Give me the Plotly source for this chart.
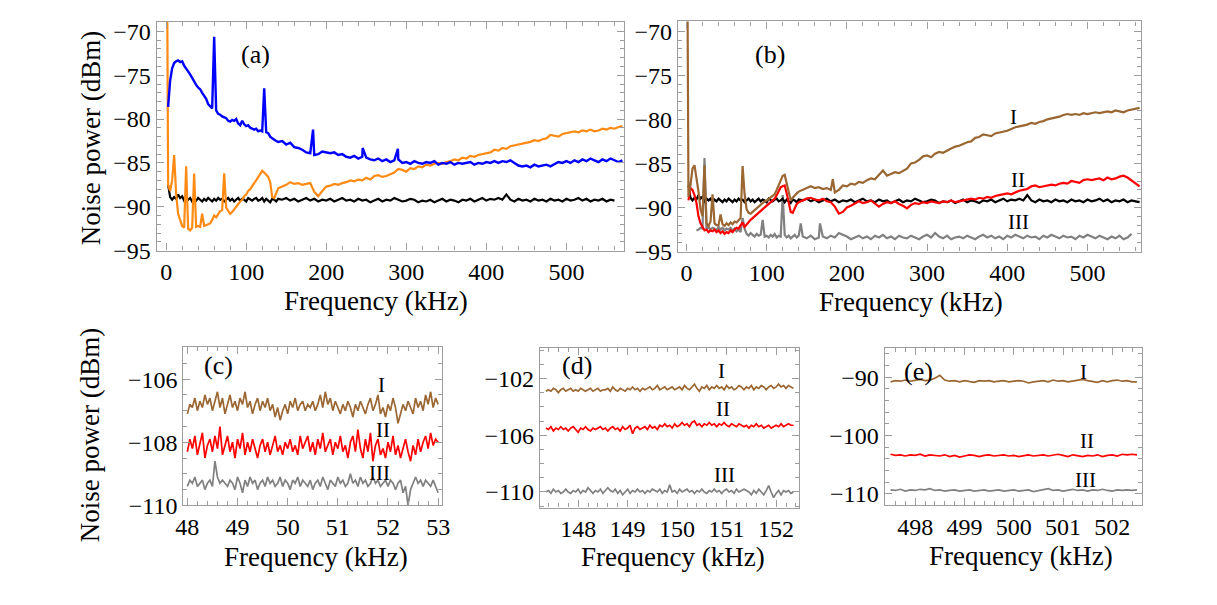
import plotly.graph_objects as go

# ---------------- frequency sample positions (kHz) ----------------
FREQ_LOW = [1.0] + [round(2.5 * k, 2) for k in range(1, 57)]        # 1, 2.5 ... 140
FREQ_HIGH = [145 + 5 * k for k in range(86)]                          # 145 ... 570
FREQ_C = [round(48.0 + 0.05 * k, 3) for k in range(101)]              # 48 ... 53
FREQ_D = [round(147.35 + 0.05 * k, 3) for k in range(101)]            # 147.35 ... 152.35
FREQ_E = [round(497.5 + 0.1 * k, 3) for k in range(51)]               # 497.5 ... 502.5

# ---------------- panel (a) ----------------
blue_a_low = [None, -78.6, -75.6, -74.2, -73.6, -73.4, -73.3, -73.5, -73.4, -73.9,
              -74.2, -74.5, -74.9, -75.3, -75.8, -76.1, -76.4, -76.6, -77.0, -77.4,
              -77.7, -78.3, -78.6, -78.8, -70.6, -79.0, -79.4, -79.5, -79.7, -79.8,
              -79.9, -80.2, -80.3, -80.1, -80.2, -80.0, -80.5, -80.7, -80.2, -80.6,
              -80.8, -80.7, -81.0, -81.1, -81.2, -81.1, -81.4, -81.3, -81.4, -76.5,
              -81.5, -81.6, -82.0, -82.2, -82.4, -82.5, -82.6]
blue_a_high = [-82.5, -82.9, -82.7, -83.2, -83.3, -83.5, -83.8, -83.9, -84.1, -84.0,
               -83.7, -83.8, -83.9, -83.8, -84.1, -84.0, -84.3, -84.4, -84.2, -84.5,
               -84.3, -84.4, -84.6, -84.7, -84.5, -84.8, -84.6, -84.9, -84.7, -84.6,
               -85.0, -84.9, -85.1, -84.8, -85.0, -85.1, -84.9, -85.0, -84.8, -85.2,
               -85.0, -85.1, -84.9, -85.2, -85.0, -85.1, -85.0, -84.9, -85.2, -85.0,
               -85.1, -84.9, -85.0, -84.8, -85.0, -84.8, -84.9, -84.7, -85.0, -85.3,
               -85.4, -85.3, -85.5, -85.2, -85.4, -85.3, -85.2, -85.4, -85.1, -84.9,
               -85.0, -84.8, -85.0, -84.7, -84.9, -84.6, -84.8, -84.5, -84.7, -84.9,
               -84.6, -84.8, -84.5, -84.7, -84.9, -84.7]
blue_a_spike_f = [183.5, 245.5, 289.5]
blue_a_spike_db = [-81.2, -83.3, -83.4]

orange_a_low = [-60.0, -87.5, -88.2, -87.0, -84.1, -88.5, -90.8, -91.6, -92.2, -92.4,
                -85.4, -92.5, -92.7, -92.4, -86.2, -92.3, -92.2, -92.3, -90.8, -92.2,
                -92.1, -92.0, -91.9, -91.5, -91.0, -91.2, -90.8, -90.5, -90.4, -86.2,
                -90.1, -90.4, -90.8, -90.6, -90.3, -89.9, -89.6, -89.4, -89.2, -88.8,
                -88.6, -88.2, -88.0, -87.6, -87.3, -87.0, -86.6, -86.2, -85.9, -86.1,
                -86.3, -86.6, -87.2, -88.9, -89.0, -88.4, -87.9]
orange_a_high = [-87.7, -87.5, -87.2, -87.4, -87.3, -87.5, -87.4, -87.3, -88.3, -88.8,
                 -88.2, -87.7, -87.6, -87.4, -87.5, -87.3, -87.2, -87.0, -87.1, -86.9,
                 -87.0, -86.7, -86.9, -86.5, -86.4, -86.6, -86.5, -86.3, -86.1, -85.7,
                 -85.8, -86.0, -85.6, -85.7, -85.4, -85.5, -85.2, -85.3, -85.1, -85.0,
                 -85.1, -84.9, -84.8, -84.6, -84.7, -84.4, -84.5, -84.2, -84.3, -84.1,
                 -84.0, -83.9, -83.8, -83.5, -83.6, -83.3, -83.4, -83.1, -83.0, -82.9,
                 -82.8, -82.7, -82.6, -82.4, -82.5, -82.3, -82.2, -81.8, -81.9, -82.0,
                 -81.7, -81.6, -81.5, -81.4, -81.5, -81.3, -81.4, -81.2, -81.4, -81.3,
                 -81.1, -81.2, -81.0, -81.1, -80.9, -80.8]

# shot-noise reference (black), shared by (a) and (b)
shot_low = [None, -87.5, -88.9, -89.2, -88.9, -89.1, -88.6, -89.0, -88.8, -89.3,
            -89.0, -89.2, -89.0, -89.4, -89.1, -89.3, -89.0, -89.2, -89.4, -89.1,
            -89.3, -89.0, -89.2, -89.4, -89.1, -89.3, -89.0, -89.2, -89.1, -89.4,
            -89.2, -89.0, -89.3, -89.1, -89.4, -89.2, -89.0, -89.3, -89.1, -89.2,
            -89.4, -89.0, -89.2, -89.3, -89.1, -89.0, -89.3, -89.2, -89.0, -89.4,
            -89.1, -89.3, -89.5, -89.1, -89.2, -89.4, -89.1]
shot_high = [-89.2, -89.0, -89.3, -89.1, -89.4, -89.2, -89.0, -89.3, -89.1, -89.4,
             -89.2, -89.3, -89.1, -89.4, -89.2, -89.0, -89.3, -89.2, -89.4, -89.1,
             -89.3, -89.2, -89.5, -89.3, -89.1, -89.4, -89.2, -89.3, -89.0, -89.2,
             -89.4, -89.3, -89.1, -89.2, -89.5, -89.3, -89.4, -89.2, -89.5, -89.3,
             -89.1, -89.4, -89.2, -89.3, -89.5, -89.2, -89.3, -89.1, -89.4, -89.2,
             -89.0, -89.3, -89.1, -89.2, -89.0, -89.2, -88.6, -89.2, -89.4, -89.1,
             -89.3, -89.2, -89.4, -89.1, -89.3, -89.2, -89.4, -89.1, -89.3, -89.2,
             -89.4, -89.1, -89.3, -89.2, -89.0, -89.3, -89.1, -89.4, -89.2, -89.3,
             -89.1, -89.4, -89.2, -89.3, -89.4, None]
shot_a_fmax = 560

# ---------------- panel (b) ----------------
brown_b_low = [-60.0, -88.8, -87.5, -85.6, -85.2, -86.5, -88.2, -90.2, -91.0, -85.2,
               -91.8, -92.1, -91.6, -88.5, -91.8, -92.0, -92.0, -90.8, -91.9, -92.1,
               -91.8, -92.0, -91.7, -91.9, -91.6, -91.7, -91.5, -91.2, -85.3, -88.5,
               -90.2, -90.6, -90.7, -90.5, -90.3, -90.1, -89.9, -89.6, -89.5, -89.3,
               -89.2, -89.0, -88.8, -88.6, -88.5, -88.0, -87.4, -86.8, -86.4, -86.3,
               -87.2, -88.4, -89.2, -88.9, -88.6, -88.4, -88.2]
brown_b_high = [-88.0, -87.8, -87.6, -87.8, -87.7, -87.9, -87.8, -88.0, -88.3, -88.0,
                -87.5, -87.6, -87.3, -87.4, -87.1, -87.2, -86.9, -86.7, -86.8, -86.3,
                -85.8, -86.4, -86.2, -86.0, -86.1, -85.8, -85.6, -85.0, -84.9, -84.6,
                -84.2, -84.1, -84.3, -83.9, -83.7, -83.8, -83.5, -83.3, -83.1, -83.0,
                -82.8, -82.6, -82.5, -82.1, -82.0, -81.7, -81.8, -81.9, -81.6, -81.5,
                -81.4, -81.3, -81.1, -80.9, -80.8, -80.7, -80.6, -80.4, -80.5, -80.3,
                -80.2, -80.0, -79.9, -79.8, -79.7, -79.5, -79.4, -79.5, -79.4, -79.5,
                -79.3, -79.4, -79.3, -79.2, -79.3, -79.2, -79.1, -79.2, -79.0, -79.1,
                -79.2, -79.0, -78.9, -78.8, -78.7, None]
brown_b_spike_f = [182.5]
brown_b_spike_db = [-86.8]

red_b_low = [None, -89.2, -87.8, -88.0, -88.6, -89.5, -91.0, -91.8, -92.3, -92.6,
             -92.5, -92.8, -92.6, -92.7, -92.5, -92.8, -92.6, -92.9, -92.7, -93.0,
             -92.8, -92.9, -92.6, -92.8, -92.5, -92.3, -92.4, -92.0, -91.7, -92.2,
             -91.9, -91.6, -91.4, -91.2, -91.0, -90.8, -90.6, -90.3, -90.1, -89.9,
             -89.8, -89.6, -89.4, -89.2, -89.0, -88.6, -88.2, -87.7, -87.6, -87.5,
             -88.4, -89.6, -90.5, -90.6, -90.0, -89.6, -89.4]
red_b_high = [-89.2, -89.0, -88.9, -89.1, -89.2, -89.0, -89.3, -89.4, -89.9, -90.7,
              -90.5, -90.0, -89.8, -89.5, -89.3, -89.5, -89.4, -89.2, -89.6, -89.9,
              -89.6, -89.4, -89.5, -89.3, -89.6, -89.8, -90.1, -89.7, -89.5, -89.6,
              -89.4, -89.5, -89.3, -89.4, -89.5, -89.3, -89.4, -89.2, -89.4, -89.3,
              -89.2, -89.1, -89.0, -89.1, -88.9, -89.0, -88.8, -88.9, -88.7, -88.6,
              -88.5, -88.4, -88.5, -88.3, -88.1, -88.0, -87.9, -87.6, -87.5, -87.7,
              -87.6, -87.5, -87.4, -87.5, -87.3, -87.2, -87.3, -87.0, -87.1, -87.2,
              -86.9, -86.8, -86.9, -86.8, -86.7, -86.9, -86.6, -86.8, -86.7, -86.5,
              -86.4, -86.6, -86.9, -87.2, -87.6, None]

gray_b_low = [None, None, None, None, None, -92.6, -92.5, -92.3, -92.4, -84.4,
              -92.6, -92.2, -92.5, -92.3, -92.4, -92.6, -92.2, -92.5, -92.3, -92.6,
              -92.4, -92.5, -92.3, -92.6, -92.4, -92.7, -92.5, -92.8, -91.2, -92.4,
              -93.0, -93.2, -92.9, -93.1, -93.3, -93.0, -93.2, -93.1, -91.4, -93.3,
              -93.2, -93.4, -93.1, -93.3, -93.0, -93.4, -93.2, -93.3, -88.6, -93.1,
              -93.4, -93.2, -93.5, -93.3, -93.1, -93.4, -93.2]
gray_b_high = [-93.3, -93.5, -93.2, -93.6, -93.4, -93.3, -93.5, -93.2, -93.4, -92.9,
               -93.1, -93.3, -93.6, -93.4, -93.2, -93.5, -93.3, -93.6, -93.2, -93.4,
               -93.1, -93.5, -93.3, -93.6, -93.2, -93.4, -93.5, -93.2, -93.4, -93.6,
               -93.3, -93.1, -93.4, -92.9, -93.3, -93.5, -93.2, -93.6, -93.4, -93.3,
               -93.5, -93.2, -93.4, -93.6, -93.3, -93.1, -93.4, -93.2, -93.5, -93.3,
               -93.6, -93.2, -93.4, -93.1, -93.3, -93.5, -93.2, -93.4, -93.3, -93.6,
               -93.2, -93.4, -93.1, -93.3, -93.5, -93.2, -93.4, -93.3, -93.6, -93.2,
               -93.4, -93.1, -93.3, -93.5, -93.2, -93.4, -93.6, -93.3, -93.5, -93.2,
               -93.6, -93.4, -93.0, None, None, None]
gray_b_spike_f = [142.5, 166.5]
gray_b_spike_db = [-91.8, -91.8]

# ---------------- panel (c) 48-53 kHz ----------------
brown_c = [-107.1, -106.8, -106.9, -106.6, -107.0, -106.7, -106.9, -106.5, -106.8, -106.6,
           -107.0, -106.7, -106.4, -106.9, -106.6, -107.1, -106.8, -106.5, -106.9, -106.7,
           -107.0, -106.6, -106.8, -106.4, -106.9, -106.7, -107.1, -106.8, -106.6, -107.0,
           -106.7, -106.9, -106.6, -107.0, -106.8, -107.2, -106.9, -107.3, -107.0, -106.8,
           -107.1, -106.7, -106.9, -106.6, -107.0, -106.8, -106.7, -107.0, -106.8, -106.9,
           -106.7, -107.0, -106.8, -106.5, -106.9, -106.4, -106.8, -106.6, -107.0, -106.7,
           -106.9, -107.1, -106.8, -107.0, -106.7, -106.9, -107.2, -106.8, -107.0, -106.7,
           -106.9, -107.1, -106.8, -106.6, -107.0, -106.8, -106.5, -107.1, -106.9, -107.2,
           -106.8, -107.0, -106.6, -106.9, -107.4, -107.1, -106.8, -107.0, -106.7, -106.9,
           -107.1, -106.6, -106.9, -106.7, -107.0, -106.5, -106.8, -106.4, -106.9, -106.6,
           -106.8]
red_c = [-108.3, -107.9, -108.2, -107.8, -108.4, -108.0, -107.7, -108.5, -108.1, -107.9,
         -108.3, -107.8, -108.2, -107.5, -108.4, -108.1, -107.8, -108.3, -108.0, -108.5,
         -107.9, -108.2, -107.7, -108.4, -108.0, -108.3, -107.9, -108.2, -108.5, -108.1,
         -107.9, -108.3, -108.0, -108.4, -108.1, -107.8, -108.3, -108.1, -108.4, -108.0,
         -108.2, -107.9, -108.3, -108.1, -108.4, -107.8, -108.2, -108.0, -107.8, -108.3,
         -108.0, -108.4, -107.9, -108.2, -107.7, -108.3, -108.1, -107.9, -108.4, -108.0,
         -108.2, -107.8, -108.3, -108.1, -108.5, -108.0, -107.8, -108.3, -107.6, -108.2,
         -108.5, -107.9, -108.3, -107.7, -108.6, -108.1, -107.9, -108.4, -108.2, -108.5,
         -108.0, -108.3, -107.8, -108.4, -108.1, -108.5, -108.2, -107.9, -108.3, -108.6,
         -108.1, -108.4, -107.9, -108.3, -108.0, -107.8, -108.2, -107.7, -108.1, -107.9,
         -108.0]
gray_c = [-109.4, -109.2, -109.3, -109.1, -109.4, -109.3, -109.2, -109.5, -109.3, -109.2,
          -109.4, -108.6, -109.1, -109.3, -109.2, -109.3, -109.4, -109.2, -109.3, -109.5,
          -109.1, -109.3, -109.6, -109.2, -109.4, -109.1, -109.3, -109.2, -109.5, -109.3,
          -109.2, -109.4, -109.1, -109.3, -109.2, -109.4, -109.3, -109.1, -109.4, -109.2,
          -109.3, -109.5, -109.2, -109.3, -109.1, -109.4, -109.2, -109.3, -109.4, -109.2,
          -109.5, -109.3, -109.2, -109.4, -109.1, -109.3, -109.5, -109.2, -109.3, -109.4,
          -109.1, -109.3, -109.2, -109.4, -109.3, -109.0, -109.3, -109.2, -109.4, -109.1,
          -109.3, -109.2, -109.4, -109.3, -109.1, -109.3, -109.2, -109.4, -109.3, -109.2,
          -109.4, -109.2, -109.3, -109.5, -109.3, -109.2, -109.6, -109.4, -110.0, -109.5,
          -109.3, -109.1, -109.3, -109.2, -109.4, -109.2, -109.3, -109.4, -109.2, -109.4,
          -109.6]

# ---------------- panel (d) 147.35-152.35 kHz ----------------
brown_d = [-102.9, -102.8, -102.9, -102.7, -102.8, -103.0, -102.8, -102.7, -102.9, -102.8,
           -102.7, -102.9, -102.8, -102.9, -102.7, -102.8, -102.9, -102.8, -102.7, -102.9,
           -102.8, -102.7, -102.9, -102.8, -102.8, -102.7, -102.9, -102.6, -102.8, -102.9,
           -102.7, -102.8, -102.9, -102.7, -102.8, -102.6, -102.8, -102.7, -102.9, -102.7,
           -102.8, -102.7, -102.6, -102.8, -102.7, -102.5, -102.8, -102.7, -102.6, -102.8,
           -102.7, -102.6, -102.8, -102.7, -102.6, -102.8, -102.5, -102.7, -102.8, -102.6,
           -102.4, -102.7, -102.9, -102.6, -102.7, -102.5, -102.8, -102.6, -102.7, -102.5,
           -102.7, -102.6, -102.8, -102.5, -102.7, -102.6, -102.8, -102.7, -102.5, -102.6,
           -102.8, -102.6, -102.7, -102.5, -102.8, -102.6, -102.7, -102.5, -102.6, -102.8,
           -102.6, -102.5, -102.7, -102.6, -102.4, -102.6, -102.5, -102.7, -102.5, -102.6,
           -102.7]
red_d = [-105.5, -105.6, -105.4, -105.7, -105.5, -105.6, -105.4, -105.6, -105.5, -105.7,
         -105.5, -105.4, -105.6, -105.8, -105.5, -105.6, -105.4, -105.6, -105.7, -105.5,
         -105.6, -105.5, -105.4, -105.6, -105.5, -105.7, -105.5, -105.4, -105.6, -105.5,
         -105.7, -105.4, -105.6, -105.5, -105.3, -105.9, -105.5, -105.4, -105.6, -105.5,
         -105.4, -105.6, -105.3, -105.5, -105.4, -105.6, -105.3, -105.4, -105.2, -105.4,
         -105.3, -105.5, -105.2, -105.4, -105.3, -105.1, -105.3, -105.2, -105.4, -105.1,
         -105.0, -105.3, -105.2, -105.4, -105.2, -105.3, -105.1, -105.3, -105.2, -105.4,
         -105.2, -105.3, -105.1, -105.3, -105.4, -105.2, -105.3, -105.4, -105.2, -105.3,
         -105.4, -105.3, -105.5, -105.3, -105.4, -105.2, -105.4, -105.3, -105.5, -105.4,
         -105.3, -105.5, -105.4, -105.3, -105.4, -105.2, -105.4, -105.3, -105.2, -105.3,
         -105.3]
gray_d = [-110.0, -109.9, -110.1, -109.8, -110.0, -109.9, -110.1, -110.0, -109.8, -110.0,
          -110.1, -109.9, -110.0, -109.8, -110.1, -109.9, -110.0, -109.7, -109.9, -110.1,
          -109.9, -110.0, -109.8, -110.1, -109.9, -109.7, -109.9, -110.0, -109.8, -110.1,
          -109.9, -110.2, -110.0, -109.8, -110.1, -109.9, -110.0, -109.8, -110.0, -109.9,
          -110.1, -109.9, -110.0, -109.8, -109.9, -110.0, -109.8, -110.1, -109.9, -110.0,
          -109.5, -110.0, -109.9, -110.1, -109.8, -110.0, -109.9, -109.8, -110.0, -109.9,
          -110.1, -109.9, -110.0, -109.8, -110.0, -110.1, -109.9, -110.0, -109.8, -110.0,
          -109.9, -110.1, -109.9, -109.8, -110.0, -109.9, -110.1, -109.8, -110.0, -109.9,
          -109.8, -109.9, -110.0, -110.2, -109.9, -110.1, -109.8, -110.0, -110.2, -109.9,
          -109.55, -110.0, -110.4, -110.1, -109.9, -110.2, -109.9, -110.0, -109.9, -110.1,
          -110.0]

# ---------------- panel (e) 497.5-502.5 kHz ----------------
brown_e = [-90.8, -90.6, -90.7, -90.5, -90.7, -90.6, -90.4, -90.6, -90.5, -90.2,
           -89.7, -90.5, -90.7, -90.6, -90.8, -90.6, -90.7, -90.9, -90.6, -90.7,
           -90.6, -90.8, -90.7, -90.6, -90.8, -90.7, -90.6, -90.7, -91.0, -90.8,
           -90.7, -90.6, -90.8, -90.5, -90.7, -90.6, -90.8, -90.7, -90.6, -90.4,
           -90.6, -90.7, -90.9, -90.6, -90.8, -90.6, -90.5, -90.7, -90.6, -90.8,
           -90.8]
red_e = [-103.2, -103.4, -103.3, -103.5, -103.3, -103.4, -103.2, -103.5, -103.3, -103.4,
         -103.5, -103.3, -103.6, -103.4, -103.7, -103.5, -103.3, -103.4, -103.6, -103.4,
         -103.3, -103.5, -103.4, -103.3, -103.5, -103.4, -103.6, -103.4, -103.3, -103.5,
         -103.4, -103.3, -103.5, -103.4, -103.2, -103.4, -103.6, -103.3, -103.4, -103.6,
         -103.4, -103.5, -103.3, -103.6, -103.4, -103.3, -103.5, -103.2, -103.3, -103.2,
         -103.3]
gray_e = [-109.3, -109.4, -109.2, -109.5, -109.3, -109.4, -109.2, -109.3, -109.1, -109.4,
          -109.3, -109.5, -109.4, -109.3, -109.5, -109.4, -109.3, -109.5, -109.4, -109.3,
          -109.5, -109.4, -109.3, -109.5, -109.4, -109.3, -109.5, -109.4, -109.3, -109.6,
          -109.4, -109.3, -109.1, -109.4, -109.3, -109.5, -109.4, -109.2, -109.4, -109.3,
          -109.5, -109.3, -109.4, -109.2, -109.4, -109.5, -109.3, -109.4, -109.3, -109.4,
          -109.3]

# ---------------- style ----------------
FONT = "Liberation Serif"
C_BLUE, C_ORANGE, C_BLACK = "#0000ff", "#ff8a14", "#000000"
C_BROWN, C_RED, C_GRAY = "#9a6632", "#ff0000", "#808080"
FRAME = "#9c9c9c"


def spectrum(low, high, spike_f=(), spike_db=(), fmax=None):
    pts = list(zip(FREQ_LOW, low)) + list(zip(FREQ_HIGH, high)) + list(zip(spike_f, spike_db))
    pts = sorted(p for p in pts if p[1] is not None and (fmax is None or p[0] <= fmax))
    return [p[0] for p in pts], [p[1] for p in pts]


fig = go.Figure()


def add(x, y, color, ax, width):
    fig.add_trace(go.Scatter(x=x, y=y, mode="lines", line=dict(color=color, width=width),
                             xaxis="x" + ax, yaxis="y" + ax, showlegend=False,
                             hoverinfo="skip"))


# (a)
add(*spectrum(shot_low, shot_high, fmax=shot_a_fmax), C_BLACK, "", 2.2)
add(*spectrum(orange_a_low, orange_a_high), C_ORANGE, "", 2.2)
add(*spectrum(blue_a_low, blue_a_high, blue_a_spike_f, blue_a_spike_db), C_BLUE, "", 2.4)
# (b)
add(*spectrum(gray_b_low, gray_b_high, gray_b_spike_f, gray_b_spike_db), C_GRAY, "2", 2.2)
add(*spectrum(shot_low, shot_high), C_BLACK, "2", 2.2)
add(*spectrum(red_b_low, red_b_high), C_RED, "2", 2.2)
add(*spectrum(brown_b_low, brown_b_high, brown_b_spike_f, brown_b_spike_db), C_BROWN, "2", 2.2)
# (c)
add(FREQ_C, brown_c, C_BROWN, "3", 1.7)
add(FREQ_C, red_c, C_RED, "3", 1.7)
add(FREQ_C, gray_c, C_GRAY, "3", 1.7)
# (d)
add(FREQ_D, brown_d, C_BROWN, "4", 1.7)
add(FREQ_D, red_d, C_RED, "4", 1.7)
add(FREQ_D, gray_d, C_GRAY, "4", 1.7)
# (e)
add(FREQ_E, brown_e, C_BROWN, "5", 1.7)
add(FREQ_E, red_e, C_RED, "5", 1.7)
add(FREQ_E, gray_e, C_GRAY, "5", 1.7)

W, H = 1217, 605


def axis(dom, rng, tick0, dtick, mdtick, anchor):
    return dict(domain=dom, range=rng, anchor=anchor, tick0=tick0, dtick=dtick,
                showgrid=False, zeroline=False, showline=True, mirror="ticks",
                linecolor=FRAME, linewidth=1.2, ticks="inside", ticklen=7,
                tickcolor=FRAME, tickwidth=1,
                minor=dict(ticks="inside", dtick=mdtick, ticklen=4, tickcolor=FRAME, tickwidth=1),
                tickfont=dict(family=FONT, size=24, color="black"))


layout = dict(
    width=W, height=H, margin=dict(l=0, r=0, t=0, b=0),
    paper_bgcolor="white", plot_bgcolor="white", showlegend=False,
    font=dict(family=FONT, color="black"),
    xaxis=axis([0.1238, 0.5127], [-11.8, 571.6], 0, 100, 20, "y"),
    yaxis=axis([0.5797, 0.9681], [-95, -68.9], -95, 5, 1, "x"),
    xaxis2=axis([0.5579, 0.9436], [-10.5, 567.1], 0, 100, 20, "y2"),
    yaxis2=axis([0.5780, 0.9686], [-95, -68.9], -95, 5, 1, "x2"),
    xaxis3=axis([0.1460, 0.3615], [47.92, 53.08], 48, 1, 0.2, "y3"),
    yaxis3=axis([0.1471, 0.4160], [-110.0, -104.98], -110, 2, 0.5, "x3"),
    xaxis4=axis([0.4429, 0.6588], [147.228, 152.467], 148, 1, 0.2, "y4"),
    yaxis4=axis([0.1433, 0.4149], [-111.1, -99.83], -110, 4, 1, "x4"),
    xaxis5=axis([0.7299, 0.9441], [497.38, 502.6], 498, 1, 0.2, "y5"),
    yaxis5=axis([0.1471, 0.4149], [-111.95, -84.95], -110, 10, 2, "x5"),
)
fig.update_layout(**layout)


def note(text, px, py, size, angle=0):
    fig.add_annotation(text=text, xref="paper", yref="paper", x=px / W, y=1 - py / H,
                       xanchor="center", yanchor="middle", showarrow=False, textangle=angle,
                       font=dict(family=FONT, size=size, color="black"))


# axis titles
for cx, cy in [(373, 306), (915, 307), (312, 569), (674, 569), (1027, 568)]:
    note("Frequency (kHz)", cx, cy, 27)
note("Noise power (dBm)", 84, 139, 27, -90)
note("Noise power (dBm)", 83, 444, 27, -90)

# panel labels
for t, cx, cy in [("(a)", 251, 53), ("(b)", 772, 53), ("(c)", 213, 372),
                  ("(d)", 577, 372), ("(e)", 923, 379)]:
    note(t, cx, cy, 26)

# curve labels
for t, cx, cy in [("I", 1019, 117), ("II", 1023, 182), ("III", 1024, 225),
                  ("I", 378, 392), ("II", 380, 439), ("III", 376, 483),
                  ("I", 723, 378), ("II", 725, 417), ("III", 726, 485),
                  ("I", 1090, 379), ("II", 1093, 450), ("III", 1092, 490)]:
    note(t, cx, cy, 21)

fig.write_html("out.html")
